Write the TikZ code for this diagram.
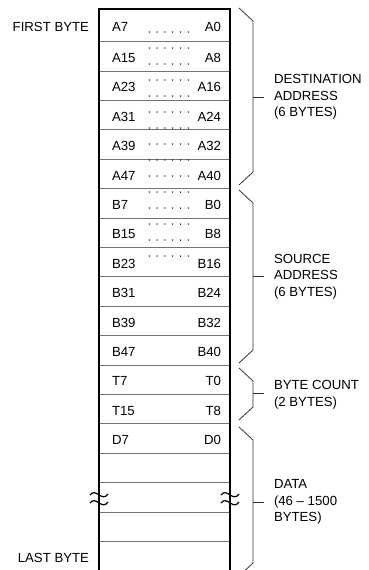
\documentclass[tikz,border=0pt]{standalone}
\usepackage{fontspec}
\setmainfont{Liberation Sans}
\begin{document}
\begin{tikzpicture}[x=1pt,y=-1pt,
  every node/.style={font=\fontsize{13.2}{16.5}\selectfont, inner sep=0pt, outer sep=0pt},
  border/.style={line width=2pt, black},
  rowline/.style={line width=0.9pt, black!55},
  bracket/.style={line width=0.8pt, black!80, line join=miter},
  lbl/.style={align=left, anchor=west},
  breakmark/.style={line width=1.2pt, black}]
\useasboundingbox (0,0) rectangle (368,570);
% row separators
\foreach \k in {1,...,18} {
  \draw[rowline] (99,{41.7+29.4*(\k-1)}) -- (230,{41.7+29.4*(\k-1)});
}
% borders
\draw[border] (99,572) -- (99,9) -- (230,9) -- (230,572);
% cell labels
\node[anchor=west] (l0) at (112,27) {A7};
\node[anchor=east] (r0) at (221,27) {A0};
\foreach \L/\R [count=\k] in {A15/A8,A23/A16,A31/A24,A39/A32,A47/A40,B7/B0,B15/B8,B23/B16,B31/B24,B39/B32,B47/B40,T7/T0,T15/T8,D7/D0} {
  \node[anchor=west] (l\k) at (112,{41.7+29.4*(\k-1)+16.2}) {\L};
  \node[anchor=east] (r\k) at (221,{41.7+29.4*(\k-1)+16.2}) {\R};
}
% dotted lines
\foreach \j in {0,...,14} {
  \foreach \i in {0,...,5} {
    \fill[black] ({149.3+7.8*\i},{32+16*\j}) circle (0.75);
  }
}
% side labels
\node[anchor=east] (first) at (89,27) {FIRST BYTE};
\node[anchor=east] (last) at (89,558) {LAST BYTE};
% brackets
\coordinate (d1) at (239,8);   \coordinate (d2) at (239,185);
\coordinate (s1) at (239,190); \coordinate (s2) at (239,363);
\coordinate (b1) at (239,368); \coordinate (b2) at (239,420);
\coordinate (e1) at (239,427); \coordinate (e2) at (239,576);
\draw[bracket] (d1) -- (253,21) -- (253,172) -- (d2);
\draw[bracket] (s1) -- (253,203) -- (253,350) -- (s2);
\draw[bracket] (b1) -- (253,381) -- (253,407) -- (b2);
\draw[bracket] (e1) -- (253,440) -- (253,563) -- (e2);
\node[lbl] (dest) at (274,97) {DESTINATION\\ADDRESS\\(6 BYTES)};
\node[lbl] (src) at (274,276.5) {SOURCE\\ADDRESS\\(6 BYTES)};
\node[lbl] (cnt) at (274,395) {BYTE COUNT\\(2 BYTES)};
\node[lbl] (data) at (274,502) {DATA\\(46 -- 1500\\BYTES)};
\draw[bracket] (253,97) -- ([xshift=-10pt]dest.west);
\draw[bracket] (253,276.5) -- ([xshift=-10pt]src.west);
\draw[bracket] (253,393) -- ([xshift=-10pt]cnt.west |- 0,393);
\draw[bracket] (253,502) -- ([xshift=-10pt]data.west);
% break marks
\foreach \x in {99,230} {
  \draw[breakmark] ({\x-9},495) .. controls ({\x-3},487) and ({\x+3},503) .. ({\x+9},494);
  \draw[breakmark] ({\x-9},503) .. controls ({\x-3},495) and ({\x+3},511) .. ({\x+9},502);
}
\end{tikzpicture}
\end{document}
